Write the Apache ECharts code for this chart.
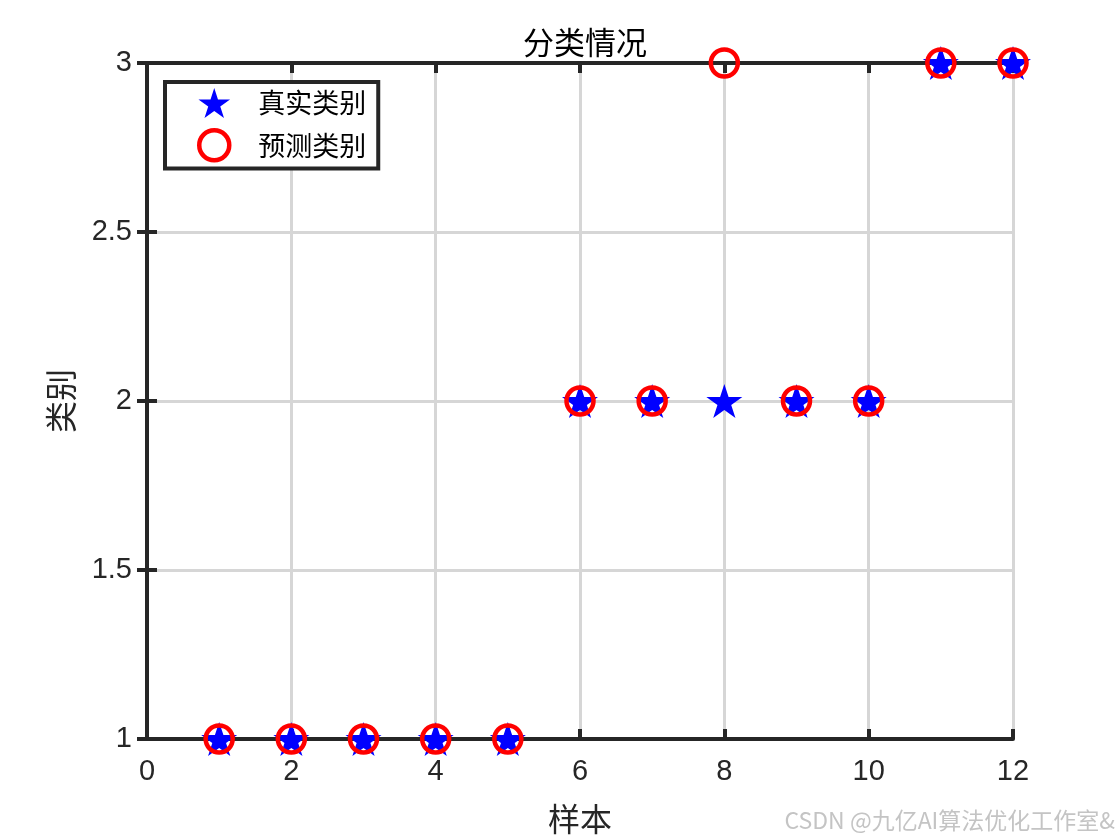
<!DOCTYPE html>
<html>
<head>
<meta charset="utf-8">
<script src="https://cdn.jsdelivr.net/npm/echarts@6/dist/echarts.min.js"></script>
<style>html,body{margin:0;padding:0;background:#fff;}#c{width:1120px;height:840px;}</style>
</head>
<body>
<div id="c"></div>
<script>
const samples = [1,2,3,4,5,6,7,8,9,10,11,12];
const trueClass = [1,1,1,1,1,2,2,2,2,2,3,3];
const predClass = [1,1,1,1,1,2,2,3,2,2,3,3];
const seriesNames = ['真实类别','预测类别'];
const titleText = '分类情况';
const xName = '样本';
const yName = '类别';
const watermark = 'CSDN @九亿AI算法优化工作室&';

const STAR = 'path://M100,0 L122.45,69.1 L195.11,69.1 L136.33,111.8 L158.78,180.9 L100,138.2 L41.22,180.9 L63.67,111.8 L4.89,69.1 L77.55,69.1 Z';
const AX = '#262626';
const chart = echarts.init(document.getElementById('c'));
const tickFont = {fontFamily:'Liberation Sans, Arial', fontSize:29, color:'#262626'};
chart.setOption({
  animation:false,
  backgroundColor:'#fff',
  title:{text:titleText,left:580,textAlign:'center',top:22,textStyle:{fontFamily:'Noto Sans CJK SC',fontWeight:'normal',fontSize:31,color:'#000'}},
  legend:{
    orient:'vertical',left:165,top:82,
    data:[{name:seriesNames[0]},{name:seriesNames[1],itemStyle:{color:'rgba(0,0,0,0)',borderColor:'#ff0000',borderWidth:4.5}}],
    backgroundColor:'#fff',borderColor:AX,borderWidth:4,
    padding:[6,12,6,32],itemGap:10,itemWidth:34,itemHeight:30,
    textStyle:{fontFamily:'Noto Sans CJK SC',fontSize:27,color:'#000',padding:[0,0,0,22]}
  },
  grid:{left:147,right:107,top:63,bottom:94,containLabel:false},
  xAxis:[{
    type:'value',min:0,max:12,interval:2,position:'bottom',
    name:xName,nameLocation:'middle',nameGap:64,
    nameTextStyle:{fontFamily:'Noto Sans CJK SC',fontSize:32,color:'#262626'},
    axisLine:{lineStyle:{color:AX,width:4}},
    axisTick:{inside:true,length:10,lineStyle:{color:AX,width:4}},
    axisLabel:Object.assign({margin:19},tickFont),
    splitLine:{show:true,lineStyle:{color:'#d6d6d6',width:3}}
  },{
    type:'value',min:0,max:12,interval:2,position:'top',name:'',
    axisLine:{lineStyle:{color:AX,width:4}},
    axisTick:{inside:true,length:10,lineStyle:{color:AX,width:4}},
    axisLabel:{show:false},splitLine:{show:false}
  }],
  yAxis:[{
    type:'value',min:1,max:3,interval:0.5,position:'left',
    name:yName,nameLocation:'middle',nameGap:70,nameRotate:90,
    nameTextStyle:{fontFamily:'Noto Sans CJK SC',fontSize:32,color:'#262626'},
    axisLine:{show:true,lineStyle:{color:AX,width:4}},
    axisTick:{show:true,inside:true,length:10,lineStyle:{color:AX,width:4}},
    axisLabel:Object.assign({margin:15},tickFont),
    splitLine:{show:true,lineStyle:{color:'#d6d6d6',width:3}}
  },{
    type:'value',min:1,max:3,interval:0.5,position:'right',name:'',
    axisLine:{show:true,lineStyle:{color:AX,width:4}},
    axisTick:{show:true,inside:true,length:10,lineStyle:{color:AX,width:4}},
    axisLabel:{show:false},splitLine:{show:false}
  }],
  series:[{
    name:seriesNames[0],type:'scatter',symbol:STAR,symbolSize:[36,34],
    itemStyle:{color:'#0000ff',opacity:1},
    emphasis:{disabled:true},
    data:samples.map((s,i)=>[s,trueClass[i]]),z:3
  },{
    name:seriesNames[1],type:'scatter',symbol:'circle',symbolSize:27,
    itemStyle:{color:'rgba(0,0,0,0)',borderColor:'#ff0000',borderWidth:4.5,opacity:1},
    emphasis:{disabled:true},
    data:samples.map((s,i)=>[s,predClass[i]]),z:4
  }],
  graphic:[{
    type:'text',right:5,top:809,
    style:{text:watermark,fontFamily:'Noto Sans CJK SC, Liberation Sans',fontSize:23,fill:'#c4c4c4'}
  }]
});
</script>
</body>
</html>
